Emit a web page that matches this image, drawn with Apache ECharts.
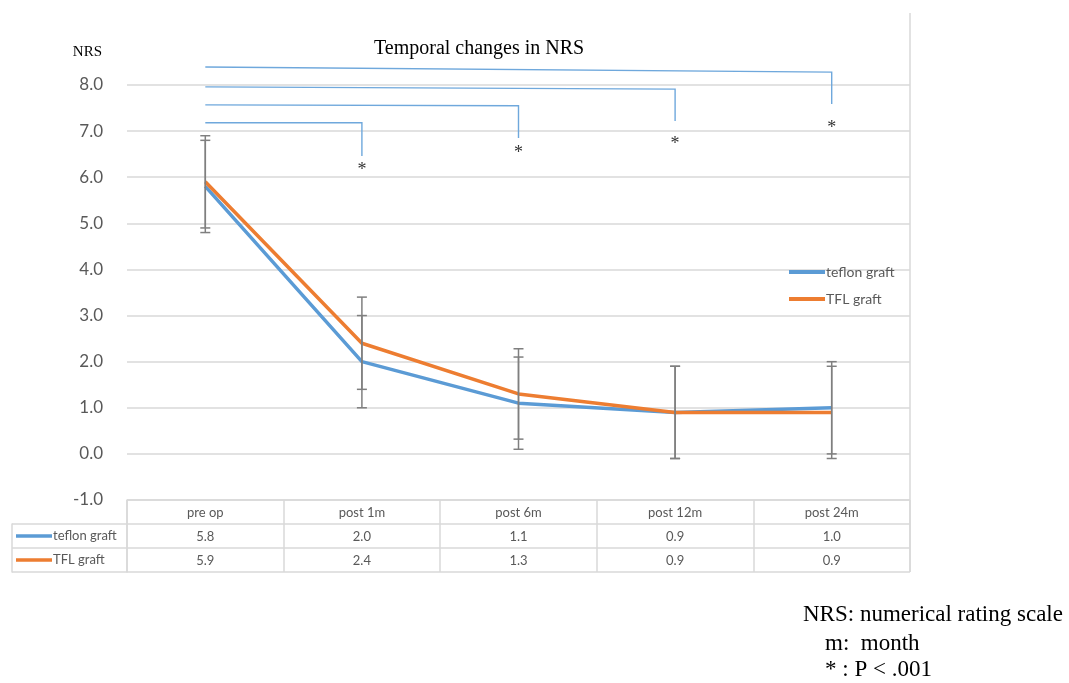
<!DOCTYPE html>
<html><head><meta charset="utf-8">
<script src="https://cdn.jsdelivr.net/npm/echarts@6/dist/echarts.min.js"></script>
<style>html,body{margin:0;padding:0;background:#fff}#c{width:1069px;height:683px}</style>
</head><body><div id="c"></div>
<script>
// ---- data ----
const categories = ['pre op', 'post 1m', 'post 6m', 'post 12m', 'post 24m'];
const seriesNames = ['teflon graft', 'TFL graft'];
const teflon = [5.8, 2.0, 1.1, 0.9, 1.0];
const tfl = [5.9, 2.4, 1.3, 0.9, 0.9];
const teflonSD = [1.0, 1.0, 1.0, 1.0, 1.0];
const tflSD = [1.0, 1.0, 0.98, 1.0, 1.0];
const yTicks = [-1, 0, 1, 2, 3, 4, 5, 6, 7, 8];
// significance brackets: from pre op to category index
const bracketTo = [1, 2, 3, 4];
const bracketLeftY = [7.18, 7.57, 7.96, 8.39];
const bracketRightY = [7.18, 7.55, 7.91, 8.28];
const bracketBottomY = [6.46, 6.85, 7.22, 7.59];
const starY = [6.16, 6.53, 6.72, 7.07];
const notes = ['NRS: numerical rating scale', 'm:  month', '* : P < .001'];

const colors = ['#5b9bd5', '#ed7d31'];
const gray = '#595959';
const gridColor = '#d9d9d9';

const chart = echarts.init(document.getElementById('c'), null, {renderer: 'canvas'});

const errData = [];
categories.forEach((c, i) => {
  errData.push([i, teflon[i], teflonSD[i]]);
  errData.push([i, tfl[i], tflSD[i]]);
});

const tableRows = [categories, teflon.map(v => v.toFixed(1)), tfl.map(v => v.toFixed(1))];
const tableData = [];
tableRows.forEach((row, r) => row.forEach((t, ci) => tableData.push([ci, r])));

const option = {
  animation: false,
  backgroundColor: '#fff',
  title: {
    text: 'Temporal changes in NRS', left: 369, top: 34,
    textStyle: {fontFamily: 'Liberation Serif', fontSize: 20, fontWeight: 'normal', color: '#000'}
  },
  legend: {
    data: seriesNames, orient: 'vertical', left: 784, top: 260,
    itemWidth: 36, itemHeight: 4, itemGap: 13, icon: 'rect',
    textStyle: {fontFamily: 'Lato', fontSize: 14, color: gray, padding: [0, 0, 0, -4]}
  },
  grid: [
    {left: 127, right: 159, top: 85, height: 415},
    {left: 127, right: 159, top: 500, height: 72},
    {left: 12, width: 115, top: 524, height: 48}
  ],
  xAxis: [
    {gridIndex: 0, type: 'category', data: categories, boundaryGap: true,
     axisLine: {show: false}, axisTick: {show: false}, axisLabel: {show: false}, splitLine: {show: false}},
    {gridIndex: 1, type: 'category', data: categories, boundaryGap: true, position: 'top',
     axisLine: {show: false}, axisTick: {show: false}, axisLabel: {show: false},
     splitLine: {show: true, interval: 0, lineStyle: {color: gridColor, width: 1.5}}},
    {gridIndex: 2, type: 'value', min: 0, max: 1, show: false}
  ],
  yAxis: [
    {gridIndex: 0, type: 'value', min: -1, max: 8, interval: 1,
     name: 'NRS', nameLocation: 'end', nameGap: 25,
     nameTextStyle: {fontFamily: 'Liberation Serif', fontSize: 15, color: '#000', align: 'right', padding: [0, 25, 0, 0]},
     axisLine: {show: false}, axisTick: {show: false},
     axisLabel: {margin: 24, fontFamily: 'Lato', fontSize: 17, color: gray, formatter: v => v.toFixed(1)},
     splitLine: {lineStyle: {color: gridColor, width: 1.5}}},
    {gridIndex: 1, type: 'category', data: ['h', 'r1', 'r2'], inverse: true, boundaryGap: true,
     axisLine: {show: true, lineStyle: {color: gridColor, width: 1.5}}, axisTick: {show: false}, axisLabel: {show: false},
     splitLine: {show: true, interval: 0, lineStyle: {color: gridColor, width: 1.5}}},
    {gridIndex: 2, type: 'category', data: seriesNames, inverse: true, boundaryGap: true,
     axisLine: {show: true, lineStyle: {color: gridColor, width: 1.5}}, axisTick: {show: false}, axisLabel: {show: false},
     splitLine: {show: true, interval: 0, lineStyle: {color: gridColor, width: 1.5}}}
  ],
  graphic: [
    {type: 'line', shape: {x1: 910, y1: 13, x2: 910, y2: 572}, style: {stroke: gridColor, lineWidth: 1.5}, z: 1},
    {type: 'text', left: 803, top: 603, style: {text: notes[0], font: '23px "Liberation Serif"', fill: '#000'}},
    {type: 'text', left: 825, top: 632, style: {text: notes[1], font: '23px "Liberation Serif"', fill: '#000'}},
    {type: 'text', left: 825, top: 658, style: {text: notes[2], font: '23px "Liberation Serif"', fill: '#000'}}
  ],
  series: [
    {name: seriesNames[0], type: 'line', xAxisIndex: 0, yAxisIndex: 0, data: teflon,
     symbol: 'none', lineStyle: {color: colors[0], width: 3.5}, itemStyle: {color: colors[0]}, z: 3},
    {name: seriesNames[1], type: 'line', xAxisIndex: 0, yAxisIndex: 0, data: tfl,
     symbol: 'none', lineStyle: {color: colors[1], width: 3.5}, itemStyle: {color: colors[1]}, z: 4},
    {type: 'custom', xAxisIndex: 0, yAxisIndex: 0, data: errData, z: 5, clip: false,
     renderItem: (params, api) => {
       const i = api.value(0), m = api.value(1), sd = api.value(2);
       const top = api.coord([i, m + sd]);
       const bot = api.coord([i, m - sd]);
       const w = 5;
       const st = {stroke: '#7f7f7f', lineWidth: 1.5};
       return {type: 'group', children: [
         {type: 'line', shape: {x1: top[0], y1: top[1], x2: bot[0], y2: bot[1]}, style: st},
         {type: 'line', shape: {x1: top[0] - w, y1: top[1], x2: top[0] + w, y2: top[1]}, style: st},
         {type: 'line', shape: {x1: bot[0] - w, y1: bot[1], x2: bot[0] + w, y2: bot[1]}, style: st}
       ]};
     }},
    {type: 'custom', xAxisIndex: 0, yAxisIndex: 0, clip: false, z: 6,
     data: bracketTo.map((t, k) => [t, bracketLeftY[k], bracketRightY[k], bracketBottomY[k], starY[k]]),
     renderItem: (params, api) => {
       const t = api.value(0);
       const p0 = api.coord([0, api.value(1)]);
       const p1 = api.coord([t, api.value(2)]);
       const p2 = api.coord([t, api.value(3)]);
       const ps = api.coord([t, api.value(4)]);
       return {type: 'group', children: [
         {type: 'polyline', shape: {points: [p0, p1, p2]}, style: {stroke: '#6fa8dc', lineWidth: 1.4, fill: null}},
         {type: 'text', style: {text: '*', x: ps[0], y: ps[1], align: 'center', verticalAlign: 'middle',
           textAlign: 'center', textVerticalAlign: 'middle', font: '18px "Liberation Serif"', fill: '#333'}}
       ]};
     }},
    {type: 'custom', xAxisIndex: 1, yAxisIndex: 1, data: tableData, z: 6,
     renderItem: (params, api) => {
       const ci = api.value(0), r = api.value(1);
       const p = api.coord([ci, r]);
       return {type: 'text', style: {text: tableRows[r][ci], x: p[0], y: p[1] + 1, align: 'center', verticalAlign: 'middle',
         textAlign: 'center', textVerticalAlign: 'middle', font: '13px Lato', fill: gray}};
     }},
    {type: 'custom', xAxisIndex: 2, yAxisIndex: 2, data: [[0, 0], [0, 1]], z: 6,
     renderItem: (params, api) => {
       const r = api.value(1);
       const p = api.coord([0, r]);
       return {type: 'group', children: [
         {type: 'line', shape: {x1: p[0] + 4, y1: p[1], x2: p[0] + 40, y2: p[1]}, style: {stroke: colors[r], lineWidth: 3.5}},
         {type: 'text', style: {text: seriesNames[r], x: p[0] + 41, y: p[1], align: 'left', verticalAlign: 'middle',
           textAlign: 'left', textVerticalAlign: 'middle', font: '13px Lato', fill: gray}}
       ]};
     }}
  ]
};
chart.setOption(option);
</script>
</body></html>
